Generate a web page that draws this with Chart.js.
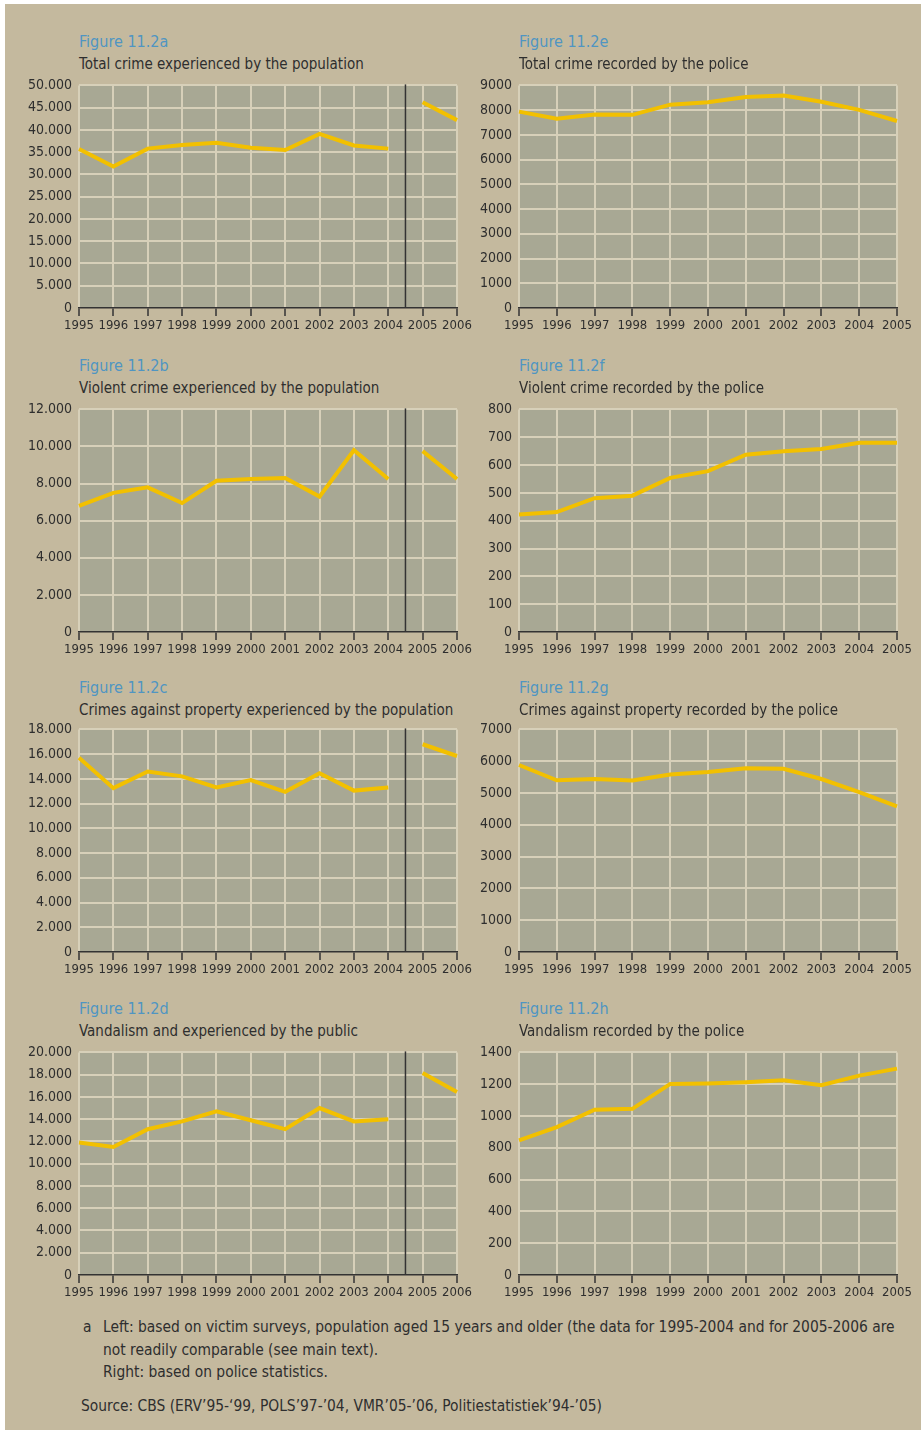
<!DOCTYPE html>
<html>
<head>
<meta charset="utf-8">
<script src="https://cdn.jsdelivr.net/npm/chart.js@4.4.1/dist/chart.umd.min.js"></script>
<style>
  body { margin: 0; background: #fff; }
  #page { position: relative; width: 921px; height: 1430px; background: #fff; overflow: hidden;
          font-family: 'Liberation Sans Narrow', 'DejaVu Sans Condensed', sans-serif; color: #2e2e2e; }
  #panel { position: absolute; left: 5px; top: 4px; right: 0; bottom: 0; background: #c4b99e; }
  .fig { position: absolute; font-size: 16px; line-height: 18px; color: #4f95c2; white-space: nowrap; }
  .sub { position: absolute; font-size: 15px; line-height: 18px; color: #2e2e2e; white-space: nowrap; }
  canvas { position: absolute; }
  .note { position: absolute; font-size: 15.4px; line-height: 22.5px; white-space: nowrap; }
</style>
</head>
<body>
<div id="page">
  <div id="panel"></div>
  <div class="note" style="left:83px; top:1316px;">a</div>
  <div class="note" style="left:103px; top:1316px;">Left: based on victim surveys, population aged 15 years and older (the data for 1995-2004 and for 2005-2006 are<br>not readily comparable (see main text).<br>Right: based on police statistics.</div>
  <div class="note" style="left:81px; top:1395px;">Source: CBS (ERV’95-‘99, POLS’97-’04, VMR’05-’06, Politiestatistiek’94-’05)</div>
</div>
<script>
const surveyYears = ['1995', '1996', '1997', '1998', '1999', '2000', '2001', '2002', '2003', '2004', '2005', '2006'];
const policeYears = ['1995', '1996', '1997', '1998', '1999', '2000', '2001', '2002', '2003', '2004', '2005'];
const surveyBreakYear = '2005';

// left column: victim surveys
const totalCrimeSurvey = [35700, 31800, 35800, 36600, 37100, 36000, 35500, 39100, 36500, 35800, 46200, 42200];
const violentCrimeSurvey = [6800, 7500, 7800, 6950, 8150, 8250, 8300, 7300, 9800, 8250, 9750, 8250];
const propertyCrimeSurvey = [15700, 13250, 14600, 14200, 13300, 13900, 12950, 14450, 13050, 13300, 16800, 15850];
const vandalismSurvey = [11900, 11500, 13100, 13800, 14700, 13900, 13100, 15000, 13800, 14000, 18150, 16450];

// right column: police statistics
const totalCrimePolice = [7940, 7650, 7820, 7810, 8220, 8320, 8530, 8590, 8340, 8010, 7560];
const violentCrimePolice = [422, 431, 481, 490, 554, 578, 637, 650, 658, 680, 680];
const propertyCrimePolice = [5880, 5400, 5440, 5390, 5580, 5660, 5780, 5760, 5440, 5030, 4580];
const vandalismPolice = [847, 930, 1039, 1045, 1202, 1205, 1213, 1225, 1194, 1254, 1298];

const surveyFigures = ['Figure 11.2a', 'Figure 11.2b', 'Figure 11.2c', 'Figure 11.2d'];
const surveyTitles = [
    'Total crime experienced by the population',
    'Violent crime experienced by the population',
    'Crimes against property experienced by the population',
    'Vandalism and experienced by the public'
];
const policeFigures = ['Figure 11.2e', 'Figure 11.2f', 'Figure 11.2g', 'Figure 11.2h'];
const policeTitles = [
    'Total crime recorded by the police',
    'Violent crime recorded by the police',
    'Crimes against property recorded by the police',
    'Vandalism recorded by the police'
];
const surveyAxisMax = [50000, 12000, 18000, 20000];
const surveyAxisStep = [5000, 2000, 2000, 2000];
const policeAxisMax = [9000, 800, 7000, 1400];
const policeAxisStep = [1000, 100, 1000, 200];

const surveySeries = [totalCrimeSurvey, violentCrimeSurvey, propertyCrimeSurvey, vandalismSurvey];
const policeSeries = [totalCrimePolice, violentCrimePolice, propertyCrimePolice, vandalismPolice];

const FONT = "'Liberation Sans Narrow', 'DejaVu Sans Condensed', sans-serif";
const YELLOW = '#f2c000';
const GRID = '#d7d0b9';
const PLOT_BG = '#a8a894';
const INK = '#2e2e2e';

Chart.defaults.font.family = FONT;
Chart.defaults.color = INK;

const plotBg = {
    id: 'plotBg',
    beforeDraw(chart) {
        const { ctx, chartArea: a } = chart;
        ctx.save();
        ctx.fillStyle = PLOT_BG;
        ctx.fillRect(a.left, a.top, a.width, a.height);
        ctx.restore();
    }
};

const breakLine = {
    id: 'breakLine',
    beforeDatasetsDraw(chart, args, opts) {
        if (!opts.index) return;
        const x = chart.scales.x;
        const px = (x.getPixelForValue(opts.index - 1) + x.getPixelForValue(opts.index)) / 2;
        const { ctx, chartArea: a } = chart;
        ctx.save();
        ctx.strokeStyle = '#333';
        ctx.lineWidth = 1.5;
        ctx.beginPath();
        ctx.moveTo(px, a.top - 1);
        ctx.lineTo(px, a.bottom);
        ctx.stroke();
        ctx.restore();
    }
};

const dotted = v => String(v).replace(/\B(?=(\d{3})+(?!\d))/g, '.');

const page = document.getElementById('page');
const plotTops = [82, 406, 726, 1049];
const titleOffsets = [40, 40, 38, 40];
const PLOT_H = 226;

function addText(cls, text, left, top) {
    const d = document.createElement('div');
    d.className = cls;
    d.textContent = text;
    d.style.left = left + 'px';
    d.style.top = top + 'px';
    page.appendChild(d);
}

function makeChart(opt) {
    const canvas = document.createElement('canvas');
    const padTop = 12, axisH = 32;
    canvas.width = opt.width;
    canvas.height = padTop + PLOT_H + axisH;
    canvas.style.left = opt.left + 'px';
    canvas.style.top = (opt.plotTop - padTop) + 'px';
    page.appendChild(canvas);

    const breakIndex = opt.breakIndex;
    new Chart(canvas, {
        type: 'line',
        data: {
            labels: opt.labels,
            datasets: [{
                data: opt.data,
                borderColor: YELLOW,
                borderWidth: 4,
                pointRadius: 0,
                tension: 0,
                segment: {
                    borderColor: c => (breakIndex && c.p1DataIndex === breakIndex) ? 'rgba(0,0,0,0)' : YELLOW
                }
            }]
        },
        options: {
            responsive: false,
            animation: false,
            devicePixelRatio: 1,
            layout: { padding: { left: 0, right: opt.padRight, top: padTop, bottom: 0 } },
            plugins: {
                legend: { display: false },
                tooltip: { enabled: false },
                breakLine: { index: breakIndex }
            },
            scales: {
                x: {
                    grid: { color: GRID, lineWidth: 2, tickColor: '#333', tickLength: 8, tickWidth: 1.5 },
                    border: { color: '#333', width: 1.5 },
                    ticks: { autoSkip: false, maxRotation: 0, padding: 2, font: { size: 13 }, color: INK },
                    afterFit: s => { s.height = axisH; }
                },
                y: {
                    min: 0,
                    max: opt.max,
                    ticks: { stepSize: opt.step, autoSkip: false, padding: 7, font: { size: 14 }, color: INK, callback: opt.format },
                    grid: {
                        drawTicks: false,
                        lineWidth: 2,
                        color: c => c.tick && c.tick.value === 0 ? 'rgba(0,0,0,0)' : GRID
                    },
                    border: { display: false },
                    afterFit: s => { s.width = opt.axisW; }
                }
            }
        },
        plugins: [plotBg, breakLine]
    });
}

plotTops.forEach((top, i) => {
    // left column
    addText('fig', surveyFigures[i], 79, top - titleOffsets[i] - 9);
    addText('sub', surveyTitles[i], 79, top - titleOffsets[i] + 13);
    makeChart({
        left: 0, width: 480, axisW: 79, padRight: 23, plotTop: top,
        labels: surveyYears, data: surveySeries[i],
        max: surveyAxisMax[i], step: surveyAxisStep[i],
        format: v => dotted(v),
        breakIndex: surveyYears.indexOf(surveyBreakYear)
    });
    // right column
    addText('fig', policeFigures[i], 519, top - titleOffsets[i] - 9);
    addText('sub', policeTitles[i], 519, top - titleOffsets[i] + 13);
    makeChart({
        left: 460, width: 461, axisW: 59, padRight: 24, plotTop: top,
        labels: policeYears, data: policeSeries[i],
        max: policeAxisMax[i], step: policeAxisStep[i],
        format: v => String(v),
        breakIndex: 0
    });
});
</script>
</body>
</html>
